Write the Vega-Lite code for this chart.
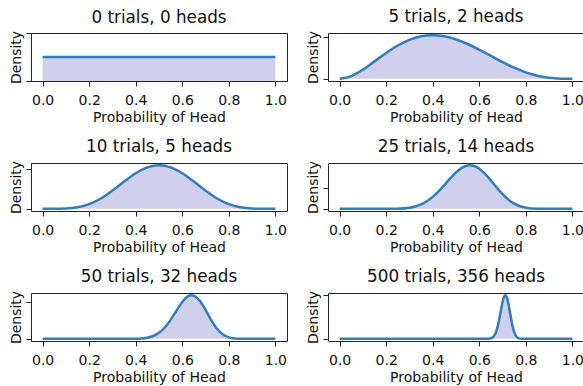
{
  "$schema": "https://vega.github.io/schema/vega-lite/v6.json",
  "padding": {"left": 9, "top": 8, "right": 0, "bottom": 0},
  "background": "white",
  "bounds": "flush",
  "columns": 2,
  "spacing": {"column": 41, "row": 82},
  "datasets": {
    "p1": [{"x": 0, "y": 1}, {"x": 1, "y": 1}],
    "p2": [
      {"x": 0, "y": 0}, {"x": 0.05, "y": 0.1286}, {"x": 0.1, "y": 0.4374}, {"x": 0.15, "y": 0.8291},
      {"x": 0.2, "y": 1.2288}, {"x": 0.25, "y": 1.582}, {"x": 0.3, "y": 1.8522}, {"x": 0.35, "y": 2.0185},
      {"x": 0.4, "y": 2.0736}, {"x": 0.45, "y": 2.0215}, {"x": 0.5, "y": 1.875}, {"x": 0.55, "y": 1.6539},
      {"x": 0.6, "y": 1.3824}, {"x": 0.65, "y": 1.0869}, {"x": 0.7, "y": 0.7938}, {"x": 0.75, "y": 0.5273},
      {"x": 0.8, "y": 0.3072}, {"x": 0.85, "y": 0.1463}, {"x": 0.9, "y": 0.0486}, {"x": 0.95, "y": 0.0068},
      {"x": 1, "y": 0}
    ],
    "p3": [
      {"x": 0, "y": 0}, {"x": 0.05, "y": 0.0007}, {"x": 0.1, "y": 0.0164}, {"x": 0.15, "y": 0.0934},
      {"x": 0.2, "y": 0.2907}, {"x": 0.25, "y": 0.6424}, {"x": 0.3, "y": 1.1321}, {"x": 0.35, "y": 1.6893},
      {"x": 0.4, "y": 2.2073}, {"x": 0.45, "y": 2.5744}, {"x": 0.5, "y": 2.707}, {"x": 0.55, "y": 2.5744},
      {"x": 0.6, "y": 2.2073}, {"x": 0.65, "y": 1.6893}, {"x": 0.7, "y": 1.1321}, {"x": 0.75, "y": 0.6424},
      {"x": 0.8, "y": 0.2907}, {"x": 0.85, "y": 0.0934}, {"x": 0.9, "y": 0.0164}, {"x": 0.95, "y": 0.0007},
      {"x": 1, "y": 0}
    ],
    "p4": [
      {"x": 0, "y": 0}, {"x": 0.1, "y": 0}, {"x": 0.15, "y": 0.0001}, {"x": 0.2, "y": 0.0016},
      {"x": 0.25, "y": 0.0182}, {"x": 0.3, "y": 0.1096}, {"x": 0.325, "y": 0.2253}, {"x": 0.35, "y": 0.4198},
      {"x": 0.375, "y": 0.7165}, {"x": 0.4, "y": 1.129}, {"x": 0.425, "y": 1.651}, {"x": 0.45, "y": 2.2545},
      {"x": 0.475, "y": 2.881}, {"x": 0.5, "y": 3.4537}, {"x": 0.525, "y": 3.89}, {"x": 0.55, "y": 4.116},
      {"x": 0.56, "y": 4.14}, {"x": 0.575, "y": 4.089}, {"x": 0.6, "y": 3.809}, {"x": 0.625, "y": 3.317},
      {"x": 0.65, "y": 2.689}, {"x": 0.675, "y": 2.019}, {"x": 0.7, "y": 1.3925}, {"x": 0.725, "y": 0.874},
      {"x": 0.75, "y": 0.4924}, {"x": 0.775, "y": 0.2445}, {"x": 0.8, "y": 0.1044}, {"x": 0.85, "y": 0.0103},
      {"x": 0.9, "y": 0.0003}, {"x": 0.95, "y": 0}, {"x": 1, "y": 0}
    ],
    "p5": [
      {"x": 0, "y": 0}, {"x": 0.3, "y": 0}, {"x": 0.35, "y": 0.001}, {"x": 0.375, "y": 0.0046},
      {"x": 0.4, "y": 0.0173}, {"x": 0.425, "y": 0.0558}, {"x": 0.45, "y": 0.1561}, {"x": 0.475, "y": 0.3812},
      {"x": 0.5, "y": 0.8177}, {"x": 0.525, "y": 1.5477}, {"x": 0.55, "y": 2.5912}, {"x": 0.575, "y": 3.8406},
      {"x": 0.6, "y": 5.0347}, {"x": 0.625, "y": 5.82}, {"x": 0.64, "y": 5.961}, {"x": 0.65, "y": 5.896},
      {"x": 0.675, "y": 5.198}, {"x": 0.7, "y": 3.94}, {"x": 0.725, "y": 2.5294}, {"x": 0.75, "y": 1.3461},
      {"x": 0.775, "y": 0.5769}, {"x": 0.8, "y": 0.1913}, {"x": 0.825, "y": 0.0463}, {"x": 0.85, "y": 0.0075},
      {"x": 0.875, "y": 0.0007}, {"x": 0.9, "y": 0}, {"x": 1, "y": 0}
    ],
    "p6": [
      {"x": 0, "y": 0}, {"x": 0.6, "y": 0}, {"x": 0.62, "y": 0.0016}, {"x": 0.63, "y": 0.0107},
      {"x": 0.64, "y": 0.0571}, {"x": 0.65, "y": 0.2496}, {"x": 0.66, "y": 0.8865}, {"x": 0.665, "y": 1.544},
      {"x": 0.67, "y": 2.552}, {"x": 0.675, "y": 4.0}, {"x": 0.68, "y": 5.938}, {"x": 0.685, "y": 8.35},
      {"x": 0.69, "y": 11.1}, {"x": 0.695, "y": 13.96}, {"x": 0.7, "y": 16.58}, {"x": 0.705, "y": 18.57},
      {"x": 0.71, "y": 19.6}, {"x": 0.712, "y": 19.7}, {"x": 0.715, "y": 19.48}, {"x": 0.72, "y": 18.21},
      {"x": 0.725, "y": 15.97}, {"x": 0.73, "y": 13.13}, {"x": 0.735, "y": 10.11}, {"x": 0.74, "y": 7.275},
      {"x": 0.745, "y": 4.884}, {"x": 0.75, "y": 3.054}, {"x": 0.755, "y": 1.775}, {"x": 0.76, "y": 0.957},
      {"x": 0.765, "y": 0.478}, {"x": 0.77, "y": 0.2206}, {"x": 0.78, "y": 0.0367}, {"x": 0.79, "y": 0.004},
      {"x": 0.8, "y": 0}, {"x": 1, "y": 0}
    ]
  },
  "concat": [
    {
      "title": "0 trials, 0 heads",
      "width": 256, "height": 48,
      "data": {"name": "p1"},
      "encoding": {
        "x": {"field": "x", "type": "quantitative", "scale": {"domain": [-0.05, 1.05], "nice": false}, "axis": {"values": [0, 0.2, 0.4, 0.6, 0.8, 1.0], "format": ".1f", "title": "Probability of Head"}},
        "y": {"field": "y", "type": "quantitative", "scale": {"domain": [0, 2], "nice": false, "zero": false}, "axis": {"values": [0, 2], "labels": false, "title": "Density"}}
      },
      "layer": [
        {"mark": {"type": "area", "color": "#d1d0ec", "opacity": 1}, "encoding": {"y2": {"datum": 0}}},
        {"mark": {"type": "line", "color": "#2f7dbb", "strokeWidth": 2.5}}
      ]
    },
    {
      "title": "5 trials, 2 heads",
      "width": 256, "height": 48,
      "data": {"name": "p2"},
      "encoding": {
        "x": {"field": "x", "type": "quantitative", "scale": {"domain": [-0.05, 1.05], "nice": false}, "axis": {"values": [0, 0.2, 0.4, 0.6, 0.8, 1.0], "format": ".1f", "title": "Probability of Head"}},
        "y": {"field": "y", "type": "quantitative", "scale": {"domain": [-0.1037, 2.1773], "nice": false, "zero": false}, "axis": {"values": [0, 2], "labels": false, "title": "Density"}}
      },
      "layer": [
        {"mark": {"type": "area", "color": "#d1d0ec", "opacity": 1, "interpolate": "monotone"}, "encoding": {"y2": {"datum": 0}}},
        {"mark": {"type": "line", "color": "#2f7dbb", "strokeWidth": 2.5, "interpolate": "monotone"}}
      ]
    },
    {
      "title": "10 trials, 5 heads",
      "width": 256, "height": 48,
      "data": {"name": "p3"},
      "encoding": {
        "x": {"field": "x", "type": "quantitative", "scale": {"domain": [-0.05, 1.05], "nice": false}, "axis": {"values": [0, 0.2, 0.4, 0.6, 0.8, 1.0], "format": ".1f", "title": "Probability of Head"}},
        "y": {"field": "y", "type": "quantitative", "scale": {"domain": [-0.1354, 2.8424], "nice": false, "zero": false}, "axis": {"values": [0, 2.5], "labels": false, "title": "Density"}}
      },
      "layer": [
        {"mark": {"type": "area", "color": "#d1d0ec", "opacity": 1, "interpolate": "monotone"}, "encoding": {"y2": {"datum": 0}}},
        {"mark": {"type": "line", "color": "#2f7dbb", "strokeWidth": 2.5, "interpolate": "monotone"}}
      ]
    },
    {
      "title": "25 trials, 14 heads",
      "width": 256, "height": 48,
      "data": {"name": "p4"},
      "encoding": {
        "x": {"field": "x", "type": "quantitative", "scale": {"domain": [-0.05, 1.05], "nice": false}, "axis": {"values": [0, 0.2, 0.4, 0.6, 0.8, 1.0], "format": ".1f", "title": "Probability of Head"}},
        "y": {"field": "y", "type": "quantitative", "scale": {"domain": [-0.207, 4.347], "nice": false, "zero": false}, "axis": {"values": [0, 2], "labels": false, "title": "Density"}}
      },
      "layer": [
        {"mark": {"type": "area", "color": "#d1d0ec", "opacity": 1, "interpolate": "monotone"}, "encoding": {"y2": {"datum": 0}}},
        {"mark": {"type": "line", "color": "#2f7dbb", "strokeWidth": 2.5, "interpolate": "monotone"}}
      ]
    },
    {
      "title": "50 trials, 32 heads",
      "width": 256, "height": 48,
      "data": {"name": "p5"},
      "encoding": {
        "x": {"field": "x", "type": "quantitative", "scale": {"domain": [-0.05, 1.05], "nice": false}, "axis": {"values": [0, 0.2, 0.4, 0.6, 0.8, 1.0], "format": ".1f", "title": "Probability of Head"}},
        "y": {"field": "y", "type": "quantitative", "scale": {"domain": [-0.298, 6.259], "nice": false, "zero": false}, "axis": {"values": [0, 5], "labels": false, "title": "Density"}}
      },
      "layer": [
        {"mark": {"type": "area", "color": "#d1d0ec", "opacity": 1, "interpolate": "monotone"}, "encoding": {"y2": {"datum": 0}}},
        {"mark": {"type": "line", "color": "#2f7dbb", "strokeWidth": 2.5, "interpolate": "monotone"}}
      ]
    },
    {
      "title": "500 trials, 356 heads",
      "width": 256, "height": 48,
      "data": {"name": "p6"},
      "encoding": {
        "x": {"field": "x", "type": "quantitative", "scale": {"domain": [-0.05, 1.05], "nice": false}, "axis": {"values": [0, 0.2, 0.4, 0.6, 0.8, 1.0], "format": ".1f", "title": "Probability of Head"}},
        "y": {"field": "y", "type": "quantitative", "scale": {"domain": [-0.985, 20.685], "nice": false, "zero": false}, "axis": {"values": [0, 20], "labels": false, "title": "Density"}}
      },
      "layer": [
        {"mark": {"type": "area", "color": "#d1d0ec", "opacity": 1, "interpolate": "monotone"}, "encoding": {"y2": {"datum": 0}}},
        {"mark": {"type": "line", "color": "#2f7dbb", "strokeWidth": 2.5, "interpolate": "monotone"}}
      ]
    }
  ],
  "config": {
    "view": {"stroke": "#222222", "strokeWidth": 1},
    "font": "DejaVu Sans",
    "axis": {
      "labelFont": "DejaVu Sans", "labelFontSize": 14, "labelColor": "#111111",
      "titleFont": "DejaVu Sans", "titleFontSize": 14, "titleFontWeight": "normal", "titleColor": "#111111",
      "tickColor": "#222222", "tickSize": 5, "tickWidth": 1, "domain": false, "grid": false
    },
    "axisX": {"labelPadding": 7, "titlePadding": 3},
    "axisY": {"titlePadding": 2},
    "title": {"font": "DejaVu Sans", "fontSize": 16.8, "fontWeight": "normal", "color": "#111111", "baseline": "alphabetic", "offset": 0, "frame": "group"}
  }
}
